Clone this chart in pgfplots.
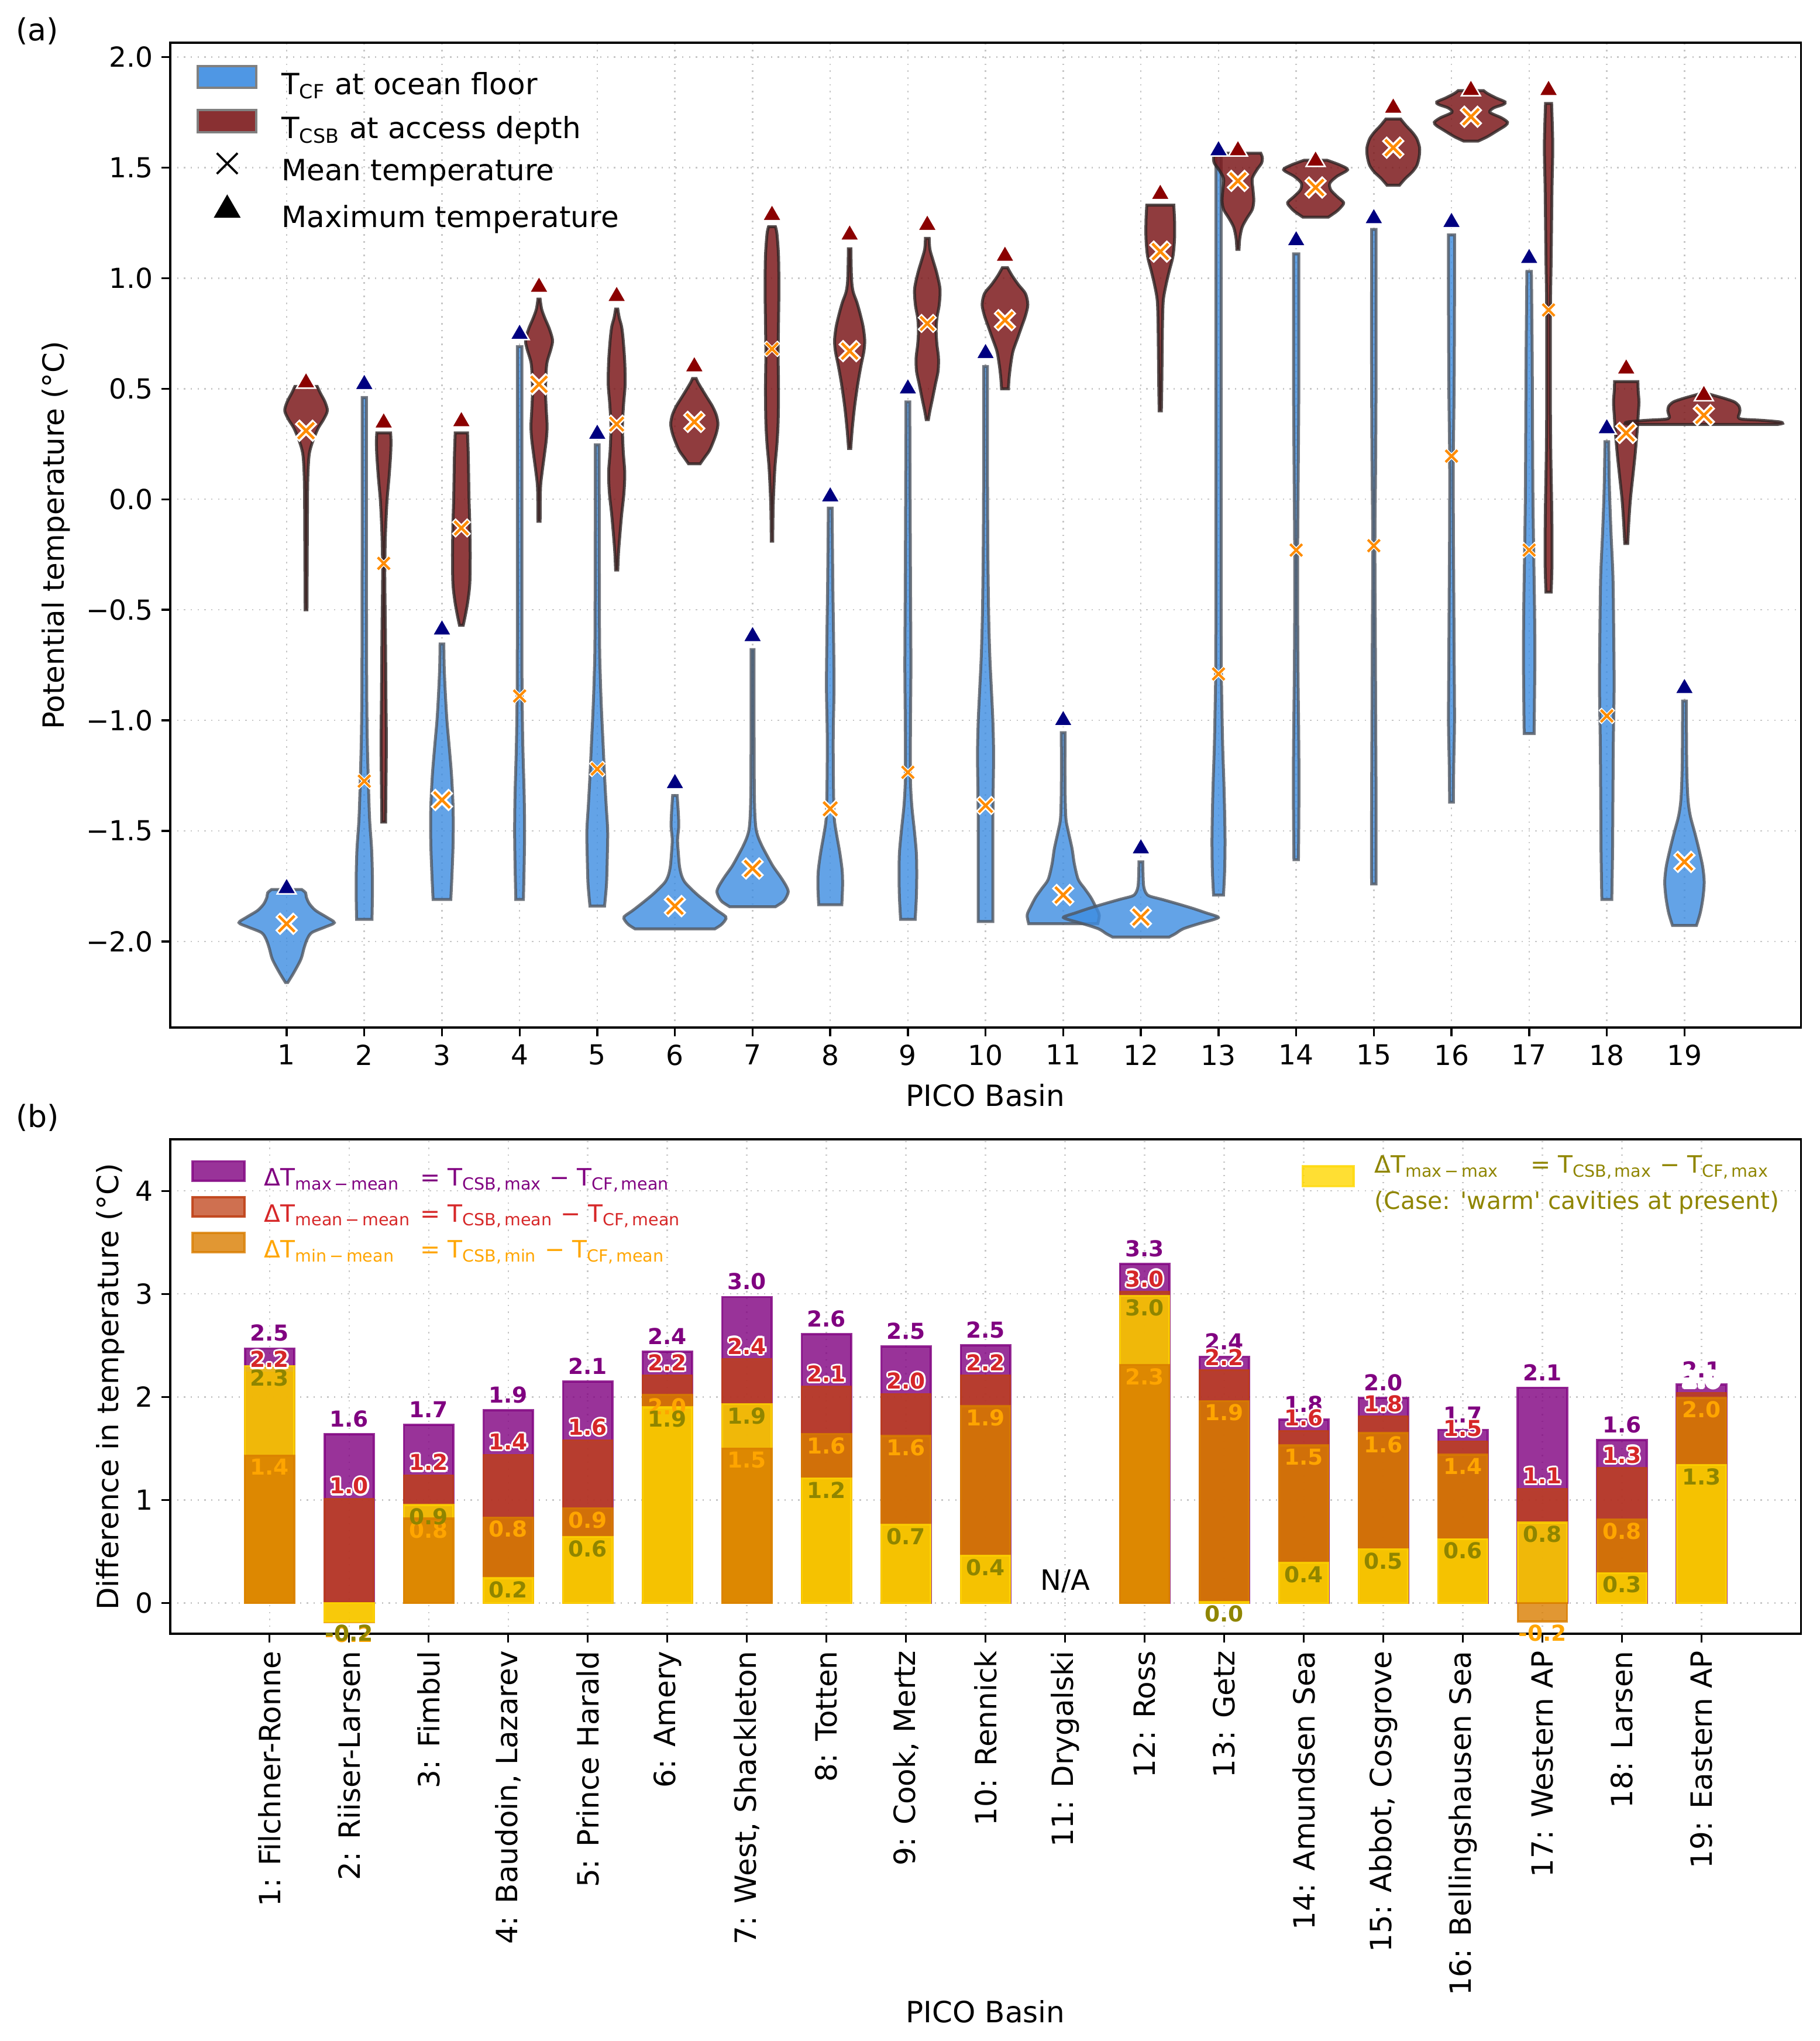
\documentclass[border=0pt]{standalone}
\usepackage{fontspec}
\setmainfont{DejaVu Sans}
\usepackage{pgfplots}
\usepackage{pgfplotstable}
\pgfplotsset{compat=1.18}
\usepgfplotslibrary{fillbetween}

\definecolor{vblue}{RGB}{60,140,225}
\definecolor{vbedge}{RGB}{80,86,96}
\definecolor{vred}{RGB}{124,26,28}
\definecolor{vredge}{RGB}{45,35,35}
\definecolor{navyc}{RGB}{0,0,128}
\definecolor{dredc}{RGB}{139,0,0}
\definecolor{mora}{RGB}{255,140,0}
\definecolor{cpur}{RGB}{128,0,128}
\definecolor{cred}{RGB}{191,64,21}
\definecolor{cora}{RGB}{217,125,0}
\definecolor{cgold}{RGB}{255,215,0}
\definecolor{tred}{RGB}{214,39,40}
\definecolor{tora}{RGB}{255,165,0}
\definecolor{tolive}{RGB}{143,133,0}

\newcommand{\fsz}[1]{\fontsize{#1}{1.2\dimexpr#1pt\relax}\selectfont}
\newcommand{\lblfont}{\fontsize{9}{10}\selectfont\bfseries}
\newcommand{\shd}[2]{\rlap{\kern#1\raise#2\copy0}}
\newcommand{\wout}[1]{{\setbox0=\hbox{\color{white}#1}%
  \shd{-.75pt}{0pt}\shd{.75pt}{0pt}\shd{0pt}{.75pt}\shd{0pt}{-.75pt}%
  \shd{-.53pt}{.53pt}\shd{.53pt}{.53pt}\shd{-.53pt}{-.53pt}\shd{.53pt}{-.53pt}%
  \textcolor{tred}{#1}}}
\newcommand{\dT}[1]{\makebox[64pt][l]{ΔT\textsubscript{#1}}}

\pgfplotsset{
  vb/.style={fill=vblue, fill opacity=0.8, draw=vbedge, draw opacity=0.8, line width=1.2pt},
  vr/.style={fill=vred, fill opacity=0.85, draw=vredge, draw opacity=0.8, line width=1.2pt},
  patchA/.style={legend image code/.code={\draw[##1] (0pt,-0.5pt) rectangle (24pt,8.5pt);}},
  patchB/.style={legend image code/.code={\draw[##1] (0pt,-0.4pt) rectangle (21.4pt,7.6pt);}},
  patchC/.style={legend image code/.code={\draw[##1] (0pt,-8pt) rectangle (21pt,0.3pt);}},
  markleg/.style={legend image code/.code={\draw[##1] plot coordinates {(12pt,4pt)};}},
  mybar/.style={ybar, bar width=0.62, bar shift=0pt, forget plot},
  common/.style={scale only axis, width=669pt,
    axis line style={line width=0.9pt}, tick style={black, line width=0.8pt},
    major tick length=3.5pt, tick align=outside, xtick pos=left, ytick pos=left,
    grid=major, major grid style={line width=0.6pt, black!22, dash pattern=on 0.6pt off 2.2pt},
    ticklabel style={font=\fsz{11.3}}},
}

\newcommand{\violin}[4]{%
  \addplot[draw=none, smooth, forget plot, name path=R#1] table[row sep=\\, x expr={#2+max(\thisrow{w}-0.006,0.008)}, y=y] {#4};
  \addplot[draw=none, smooth, forget plot, name path=L#1] table[row sep=\\, x expr={#2-max(\thisrow{w}-0.006,0.008)}, y=y] {#4};
  \addplot[#3, forget plot] fill between[of=R#1 and L#1, reverse=true];
}

\pgfplotstableread{
x  pm   pl  rm   rl  om    ol   yA    yB    yl
1  2.47 2.5 2.24 2.2 1.43  1.4  2.30  nan   2.3
2  1.64 1.6 1.01 1.0 -0.19 -0.2 nan   -0.18 -0.2
3  1.73 1.7 1.24 1.2 0.82  0.8  0.95  nan   0.9
4  1.87 1.9 1.44 1.4 0.83  0.8  nan   0.24  0.2
5  2.15 2.1 1.58 1.6 0.92  0.9  nan   0.64  0.6
6  2.44 2.4 2.21 2.2 2.02  2.0  nan   1.90  1.9
7  2.97 3.0 2.37 2.4 1.50  1.5  1.93  nan   1.9
8  2.61 2.6 2.10 2.1 1.64  1.6  nan   1.21  1.2
9  2.49 2.5 2.03 2.0 1.62  1.6  nan   0.76  0.7
10 2.50 2.5 2.21 2.2 1.91  1.9  nan   0.46  0.4
12 3.29 3.3 3.02 3.0 2.31  2.3  2.98  nan   3.0
13 2.39 2.4 2.26 2.2 1.96  1.9  nan   0.01  0.0
14 1.78 1.8 1.67 1.6 1.53  1.5  nan   0.39  0.4
15 1.99 2.0 1.81 1.8 1.65  1.6  nan   0.52  0.5
16 1.68 1.7 1.57 1.5 1.44  1.4  nan   0.62  0.6
17 2.09 2.1 1.11 1.1 -0.18 -0.2 0.78  nan   0.8
18 1.58 1.6 1.31 1.3 0.81  0.8  nan   0.29  0.3
19 2.12 2.1 2.04 2.0 1.99  2.0  nan   1.34  1.3
}\bars

\begin{document}
\begin{tikzpicture}
% ---------------- (a) violins ----------------
\begin{axis}[common, at={(69.8pt,-17.5pt)}, anchor=north west, height=404pt,
  xmin=-0.5, xmax=20.5, ymin=-2.39, ymax=2.065,
  xtick={1,...,19}, xticklabels={1,2,3,4,5,6,7,8,9,10,11,12,13,14,15,16,17,18,19},
  ytick={-2,-1.5,-1,-0.5,0,0.5,1,1.5,2},
  yticklabels={−2.0,−1.5,−1.0,−0.5,0.0,0.5,1.0,1.5,2.0},
  xlabel={PICO Basin}, ylabel={Potential temperature (°C)},
  every axis x label/.style={at={(axis description cs:0.5,0)}, yshift=-27.8pt, anchor=center, font=\fsz{12}},
  every axis y label/.style={at={(axis description cs:-0.070,0.5)}, rotate=90, anchor=center, font=\fsz{12}},
  legend style={at={(axis description cs:0.016,0.978)}, anchor=north west, draw=none, fill=none,
    font=\fsz{12}, row sep=3.6pt, inner sep=0pt,
    nodes={inner sep=0pt, text height=8.6pt, text depth=2.4pt},
    /tikz/every odd column/.append style={column sep=9.8pt}},
  legend cell align=left]
\addlegendimage{patchA, fill=vblue, fill opacity=0.9, draw=gray, line width=1pt}
\addlegendentry{T\textsubscript{CF} at ocean floor}
\addlegendimage{patchA, fill=vred, fill opacity=0.9, draw=gray, line width=1pt}
\addlegendentry{T\textsubscript{CSB} at access depth}
\addlegendimage{markleg, mark=x, mark size=6pt, black, line width=0.9pt}
\addlegendentry{Mean temperature}
\addlegendimage{markleg, mark=triangle*, mark size=6pt, black}
\addlegendentry{Maximum temperature}

% blue violins (T_CF at ocean floor)
\violin{1b}{1}{vb}{y w\\ -2.186 0.02\\ -2.14 0.10\\ -2.08 0.19\\ -2.03 0.23\\ -1.99 0.27\\ -1.96 0.33\\ -1.935 0.50\\ -1.915 0.62\\ -1.89 0.52\\ -1.86 0.38\\ -1.83 0.30\\ -1.80 0.26\\ -1.78 0.25\\ -1.765 0.20\\}
\violin{2b}{2}{vb}{y w\\ -1.90 0.105\\ -1.80 0.11\\ -1.70 0.11\\ -1.58 0.10\\ -1.45 0.075\\ -1.30 0.06\\ -1.10 0.045\\ -0.90 0.038\\ -0.60 0.035\\ 0.00 0.033\\ 0.46 0.033\\}
\violin{3b}{3}{vb}{y w\\ -1.81 0.12\\ -1.70 0.135\\ -1.55 0.15\\ -1.40 0.15\\ -1.25 0.13\\ -1.12 0.10\\ -1.00 0.07\\ -0.88 0.05\\ -0.76 0.035\\ -0.655 0.03\\}
\violin{4b}{4}{vb}{y w\\ -1.81 0.055\\ -1.65 0.065\\ -1.50 0.07\\ -1.34 0.065\\ -1.15 0.05\\ -1.00 0.042\\ -0.75 0.036\\ 0.00 0.035\\ 0.69 0.035\\}
\violin{5b}{5}{vb}{y w\\ -1.84 0.10\\ -1.74 0.125\\ -1.62 0.135\\ -1.50 0.14\\ -1.38 0.12\\ -1.25 0.10\\ -1.10 0.08\\ -0.95 0.06\\ -0.80 0.045\\ -0.60 0.035\\ 0.246 0.03\\}
\violin{6b}{6}{vb}{y w\\ -1.943 0.52\\ -1.925 0.60\\ -1.905 0.65\\ -1.888 0.66\\ -1.86 0.55\\ -1.83 0.44\\ -1.79 0.30\\ -1.757 0.20\\ -1.73 0.13\\ -1.70 0.09\\ -1.66 0.065\\ -1.60 0.05\\ -1.54 0.04\\ -1.48 0.055\\ -1.42 0.05\\ -1.34 0.035\\}
\violin{7b}{7}{vb}{y w\\ -1.843 0.30\\ -1.82 0.40\\ -1.80 0.44\\ -1.775 0.465\\ -1.75 0.44\\ -1.71 0.37\\ -1.66 0.27\\ -1.61 0.19\\ -1.57 0.13\\ -1.53 0.08\\ -1.49 0.05\\ -1.42 0.035\\ -1.30 0.028\\ -1.00 0.025\\ -0.68 0.025\\}
\violin{8b}{8}{vb}{y w\\ -1.834 0.155\\ -1.75 0.165\\ -1.68 0.16\\ -1.60 0.13\\ -1.52 0.09\\ -1.45 0.06\\ -1.35 0.05\\ -1.20 0.045\\ -1.05 0.045\\ -0.85 0.055\\ -0.65 0.05\\ -0.40 0.04\\ -0.04 0.03\\}
\violin{9b}{9}{vb}{y w\\ -1.90 0.10\\ -1.80 0.115\\ -1.70 0.12\\ -1.60 0.115\\ -1.50 0.09\\ -1.38 0.055\\ -1.25 0.038\\ -1.00 0.04\\ -0.75 0.045\\ -0.40 0.04\\ 0.00 0.035\\ 0.44 0.03\\}
\violin{10b}{10}{vb}{y w\\ -1.91 0.10\\ -1.75 0.10\\ -1.60 0.10\\ -1.45 0.10\\ -1.30 0.105\\ -1.15 0.11\\ -1.00 0.10\\ -0.85 0.08\\ -0.70 0.06\\ -0.50 0.045\\ -0.20 0.035\\ 0.20 0.03\\ 0.60 0.03\\}
\violin{11b}{11}{vb}{y w\\ -1.92 0.45\\ -1.88 0.47\\ -1.84 0.42\\ -1.80 0.36\\ -1.76 0.28\\ -1.72 0.20\\ -1.65 0.15\\ -1.58 0.12\\ -1.50 0.07\\ -1.44 0.04\\ -1.30 0.03\\ -1.056 0.03\\}
\violin{12b}{12}{vb}{y w\\ -1.98 0.37\\ -1.965 0.45\\ -1.943 0.55\\ -1.92 0.75\\ -1.90 0.95\\ -1.889 1.00\\ -1.87 0.84\\ -1.851 0.68\\ -1.83 0.48\\ -1.81 0.28\\ -1.795 0.12\\ -1.78 0.07\\ -1.743 0.04\\ -1.64 0.03\\}
\violin{13b}{13}{vb}{y w\\ -1.79 0.07\\ -1.68 0.085\\ -1.55 0.09\\ -1.42 0.085\\ -1.28 0.075\\ -1.12 0.06\\ -0.95 0.05\\ -0.75 0.042\\ -0.30 0.04\\ 0.50 0.04\\ 1.20 0.04\\ 1.56 0.04\\}
\violin{14b}{14}{vb}{y w\\ -1.63 0.035\\ -1.45 0.04\\ -1.25 0.042\\ -1.05 0.038\\ -0.80 0.03\\ -0.50 0.025\\ -0.23 0.025\\ 0.10 0.032\\ 0.50 0.04\\ 0.90 0.04\\ 1.11 0.04\\}
\violin{15b}{15}{vb}{y w\\ -1.74 0.035\\ -1.40 0.035\\ -1.00 0.03\\ -0.60 0.025\\ -0.20 0.02\\ 0.20 0.03\\ 0.60 0.035\\ 1.00 0.035\\ 1.22 0.035\\}
\violin{16b}{16}{vb}{y w\\ -1.37 0.03\\ -1.20 0.035\\ -1.00 0.045\\ -0.70 0.04\\ -0.40 0.035\\ -0.10 0.03\\ 0.20 0.03\\ 0.50 0.04\\ 0.90 0.045\\ 1.196 0.045\\}
\violin{17b}{17}{vb}{y w\\ -1.06 0.07\\ -0.90 0.075\\ -0.70 0.08\\ -0.48 0.075\\ -0.25 0.065\\ 0.00 0.055\\ 0.30 0.05\\ 0.66 0.045\\ 1.03 0.035\\}
\violin{18b}{18}{vb}{y w\\ -1.81 0.07\\ -1.60 0.08\\ -1.34 0.085\\ -1.10 0.09\\ -0.85 0.10\\ -0.60 0.095\\ -0.35 0.085\\ -0.15 0.06\\ 0.05 0.04\\ 0.26 0.03\\}
\violin{19b}{19}{vb}{y w\\ -1.928 0.16\\ -1.87 0.21\\ -1.80 0.245\\ -1.73 0.26\\ -1.66 0.24\\ -1.58 0.19\\ -1.51 0.14\\ -1.43 0.08\\ -1.35 0.05\\ -1.20 0.035\\ -0.913 0.03\\}

% red violins (T_CSB at access depth)
\violin{1r}{1.25}{vr}{y w\\ -0.50 0.018\\ -0.20 0.022\\ 0.05 0.026\\ 0.15 0.035\\ 0.21 0.05\\ 0.26 0.09\\ 0.32 0.16\\ 0.36 0.23\\ 0.40 0.28\\ 0.44 0.25\\ 0.48 0.19\\ 0.51 0.15\\}
\violin{2r}{2.25}{vr}{y w\\ -1.46 0.03\\ -1.30 0.035\\ -1.10 0.04\\ -0.90 0.035\\ -0.60 0.028\\ -0.35 0.02\\ -0.20 0.025\\ -0.10 0.035\\ 0.00 0.05\\ 0.10 0.075\\ 0.20 0.095\\ 0.26 0.10\\ 0.30 0.095\\}
\violin{3r}{3.25}{vr}{y w\\ -0.57 0.03\\ -0.52 0.06\\ -0.46 0.09\\ -0.38 0.115\\ -0.25 0.12\\ -0.12 0.115\\ 0.00 0.105\\ 0.10 0.10\\ 0.20 0.095\\ 0.30 0.085\\}
\violin{4r}{4.25}{vr}{y w\\ -0.10 0.02\\ 0.05 0.025\\ 0.12 0.045\\ 0.20 0.075\\ 0.27 0.10\\ 0.33 0.11\\ 0.40 0.10\\ 0.48 0.09\\ 0.56 0.095\\ 0.62 0.11\\ 0.68 0.16\\ 0.72 0.18\\ 0.77 0.14\\ 0.82 0.08\\ 0.86 0.04\\ 0.905 0.02\\}
\violin{5r}{5.25}{vr}{y w\\ -0.32 0.02\\ -0.24 0.03\\ -0.15 0.05\\ -0.07 0.07\\ 0.03 0.10\\ 0.12 0.11\\ 0.22 0.09\\ 0.33 0.08\\ 0.43 0.095\\ 0.52 0.115\\ 0.62 0.11\\ 0.72 0.09\\ 0.78 0.07\\ 0.82 0.04\\ 0.86 0.02\\}
\violin{6r}{6.25}{vr}{y w\\ 0.16 0.08\\ 0.19 0.14\\ 0.22 0.20\\ 0.26 0.25\\ 0.30 0.29\\ 0.34 0.31\\ 0.38 0.29\\ 0.42 0.24\\ 0.46 0.17\\ 0.50 0.10\\ 0.53 0.05\\ 0.546 0.03\\}
\violin{7r}{7.25}{vr}{y w\\ -0.19 0.015\\ -0.05 0.02\\ 0.05 0.03\\ 0.15 0.045\\ 0.25 0.07\\ 0.35 0.085\\ 0.50 0.09\\ 0.65 0.085\\ 0.80 0.09\\ 0.95 0.095\\ 1.10 0.09\\ 1.20 0.07\\ 1.233 0.05\\}
\violin{8r}{8.25}{vr}{y w\\ 0.23 0.02\\ 0.32 0.04\\ 0.42 0.07\\ 0.52 0.11\\ 0.60 0.15\\ 0.67 0.19\\ 0.72 0.20\\ 0.78 0.18\\ 0.84 0.14\\ 0.89 0.10\\ 0.94 0.05\\ 1.00 0.03\\ 1.133 0.022\\}
\violin{9r}{9.25}{vr}{y w\\ 0.36 0.02\\ 0.40 0.04\\ 0.45 0.07\\ 0.52 0.11\\ 0.58 0.145\\ 0.64 0.15\\ 0.70 0.13\\ 0.76 0.12\\ 0.82 0.13\\ 0.88 0.16\\ 0.95 0.17\\ 1.02 0.13\\ 1.08 0.08\\ 1.13 0.04\\ 1.18 0.03\\}
\violin{10r}{10.25}{vr}{y w\\ 0.50 0.05\\ 0.55 0.06\\ 0.61 0.08\\ 0.67 0.11\\ 0.73 0.17\\ 0.78 0.22\\ 0.83 0.27\\ 0.88 0.30\\ 0.93 0.27\\ 0.97 0.18\\ 1.01 0.10\\ 1.047 0.04\\}
\violin{12r}{12.25}{vr}{y w\\ 0.40 0.02\\ 0.50 0.025\\ 0.66 0.03\\ 0.80 0.035\\ 0.90 0.045\\ 0.97 0.08\\ 1.03 0.12\\ 1.10 0.17\\ 1.18 0.19\\ 1.26 0.19\\ 1.33 0.18\\}
\violin{13r}{13.25}{vr}{y w\\ 1.13 0.02\\ 1.18 0.03\\ 1.23 0.06\\ 1.27 0.12\\ 1.31 0.19\\ 1.35 0.21\\ 1.40 0.20\\ 1.45 0.19\\ 1.49 0.25\\ 1.52 0.31\\ 1.545 0.32\\ 1.565 0.30\\}
\violin{14r}{14.25}{vr}{y w\\ 1.276 0.17\\ 1.30 0.27\\ 1.32 0.33\\ 1.342 0.366\\ 1.37 0.28\\ 1.40 0.20\\ 1.43 0.19\\ 1.46 0.28\\ 1.49 0.418\\ 1.51 0.33\\ 1.525 0.22\\ 1.533 0.155\\}
\violin{15r}{15.25}{vr}{y w\\ 1.42 0.086\\ 1.45 0.16\\ 1.48 0.25\\ 1.51 0.31\\ 1.55 0.34\\ 1.59 0.345\\ 1.63 0.31\\ 1.66 0.25\\ 1.69 0.17\\ 1.72 0.10\\}
\violin{16r}{16.25}{vr}{y w\\ 1.62 0.10\\ 1.64 0.22\\ 1.67 0.36\\ 1.69 0.45\\ 1.705 0.477\\ 1.725 0.40\\ 1.75 0.25\\ 1.77 0.30\\ 1.785 0.42\\ 1.797 0.446\\ 1.815 0.33\\ 1.835 0.22\\ 1.848 0.17\\}
\violin{17r}{17.25}{vr}{y w\\ -0.42 0.04\\ -0.30 0.05\\ -0.15 0.05\\ 0.00 0.045\\ 0.20 0.035\\ 0.40 0.03\\ 0.60 0.03\\ 0.86 0.03\\ 1.10 0.04\\ 1.40 0.05\\ 1.60 0.06\\ 1.79 0.045\\}
\violin{18r}{18.25}{vr}{y w\\ -0.20 0.025\\ -0.10 0.04\\ 0.00 0.06\\ 0.10 0.09\\ 0.20 0.12\\ 0.30 0.145\\ 0.38 0.16\\ 0.44 0.17\\ 0.49 0.16\\ 0.532 0.156\\}
\violin{19r}{19.25}{vr}{y w\\ 0.338 0.95\\ 0.343 1.02\\ 0.350 0.98\\ 0.357 0.75\\ 0.362 0.50\\ 0.370 0.45\\ 0.385 0.46\\ 0.40 0.47\\ 0.42 0.46\\ 0.44 0.40\\ 0.455 0.28\\ 0.468 0.15\\ 0.475 0.08\\}

% maximum temperature markers
\addplot[only marks, forget plot, mark=triangle*, mark size=4.5pt, mark options={fill=navyc, draw=white, line width=0.6pt}]
  table[row sep=\\]{x y\\ 1 -1.76\\ 2 0.52\\ 3 -0.59\\ 4 0.747\\ 5 0.295\\ 6 -1.285\\ 7 -0.62\\ 8 0.012\\ 9 0.50\\ 10 0.66\\ 11 -1.0\\ 12 -1.58\\ 13 1.577\\ 14 1.17\\ 15 1.27\\ 16 1.253\\ 17 1.09\\ 18 0.32\\ 19 -0.855\\};
\addplot[only marks, forget plot, mark=triangle*, mark size=4.5pt, mark options={fill=dredc, draw=white, line width=0.6pt}]
  table[row sep=\\]{x y\\ 1.25 0.527\\ 2.25 0.346\\ 3.25 0.352\\ 4.25 0.96\\ 5.25 0.918\\ 6.25 0.60\\ 7.25 1.285\\ 8.25 1.196\\ 9.25 1.24\\ 10.25 1.10\\ 12.25 1.38\\ 13.25 1.577\\ 14.25 1.53\\ 15.25 1.77\\ 16.25 1.85\\ 17.25 1.85\\ 18.25 0.59\\ 19.25 0.47\\};

% mean temperature markers (three marker sizes)
\pgfplotstableread[row sep=\\]{x y\\ 1 -1.92\\ 1.25 0.31\\ 3 -1.36\\ 4.25 0.52\\ 6 -1.84\\ 6.25 0.35\\ 7 -1.67\\ 8.25 0.67\\ 10.25 0.81\\ 11 -1.79\\ 12 -1.89\\ 12.25 1.12\\ 13.25 1.44\\ 14.25 1.41\\ 15.25 1.59\\ 16.25 1.73\\ 18.25 0.30\\ 19 -1.64\\ 19.25 0.38\\}\meanbig
\pgfplotstableread[row sep=\\]{x y\\ 3.25 -0.13\\ 5.25 0.34\\ 9.25 0.795\\ 10 -1.385\\ 8 -1.40\\}\meanmid
\pgfplotstableread[row sep=\\]{x y\\ 2 -1.275\\ 2.25 -0.29\\ 4 -0.89\\ 5 -1.22\\ 7.25 0.68\\ 9 -1.235\\ 13 -0.79\\ 14 -0.23\\ 15 -0.21\\ 16 0.195\\ 17 -0.23\\ 17.25 0.856\\ 18 -0.98\\}\meansml
\addplot[only marks, forget plot, mark=x, mark size=5.2pt, mark options={draw=white, line width=2.8pt}] table {\meanbig};
\addplot[only marks, forget plot, mark=x, mark size=4.6pt, mark options={draw=mora, line width=1.1pt}] table {\meanbig};
\addplot[only marks, forget plot, mark=x, mark size=4.5pt, mark options={draw=white, line width=2.3pt}] table {\meanmid};
\addplot[only marks, forget plot, mark=x, mark size=3.95pt, mark options={draw=mora, line width=1.05pt}] table {\meanmid};
\addplot[only marks, forget plot, mark=x, mark size=4.0pt, mark options={draw=white, line width=1.7pt}] table {\meansml};
\addplot[only marks, forget plot, mark=x, mark size=3.45pt, mark options={draw=mora, line width=1pt}] table {\meansml};
\end{axis}

% ---------------- (b) bars ----------------
\begin{axis}[common, at={(69.8pt,-467.3pt)}, anchor=north west, height=202.8pt, clip=false,
  xmin=-0.25, xmax=20.25, ymin=-0.3, ymax=4.5,
  xtick={1,...,19},
  xticklabels={{1: Filchner-Ronne},{2: Riiser-Larsen},{3: Fimbul},{4: Baudoin, Lazarev},{5: Prince Harald},{6: Amery},{7: West, Shackleton},{8: Totten},{9: Cook, Mertz},{10: Rennick},{11: Drygalski},{12: Ross},{13: Getz},{14: Amundsen Sea},{15: Abbot, Cosgrove},{16: Bellingshausen Sea},{17: Western AP},{18: Larsen},{19: Eastern AP}},
  xticklabel style={rotate=90, anchor=east, font=\fsz{12}},
  ytick={0,1,2,3,4}, yticklabels={0,1,2,3,4},
  xlabel={PICO Basin}, ylabel={Difference in temperature (°C)},
  every axis x label/.style={at={(axis description cs:0.5,0)}, yshift=-155pt, anchor=center, font=\fsz{12}},
  every axis y label/.style={at={(axis description cs:-0.0366,0.5)}, rotate=90, anchor=center, font=\fsz{12}},
  legend style={at={(axis description cs:0.0126,0.959)}, anchor=north west, draw=none, fill=none,
    font=\fsz{9.8}, row sep=1.6pt, inner sep=0pt,
    nodes={inner sep=0pt, text height=7.6pt, text depth=2.5pt},
    /tikz/every odd column/.append style={column sep=7.7pt}},
  legend cell align=left]
\addlegendimage{patchB, fill=cpur, draw=cpur, opacity=0.8, line width=0.9pt}
\addlegendentry[text=cpur]{\textcolor{cpur}{\dT{max\,−\,mean}= T\textsubscript{CSB,\,max} − T\textsubscript{CF,\,mean}}}
\addlegendimage{patchB, fill=cred, draw=cred, fill opacity=0.75, draw opacity=0.9, line width=0.9pt}
\addlegendentry[text=tred]{\textcolor{tred}{\dT{mean\,−\,mean}= T\textsubscript{CSB,\,mean} − T\textsubscript{CF,\,mean}}}
\addlegendimage{patchB, fill=cora, draw=cora, opacity=0.8, line width=0.9pt}
\addlegendentry[text=tora]{\textcolor{tora}{\dT{min\,−\,mean}= T\textsubscript{CSB,\,min} − T\textsubscript{CF,\,mean}}}

\addplot[mybar, fill=cpur, draw=cpur, opacity=0.8, line width=0.9pt] table[x=x, y=pm] {\bars};
\addplot[mybar, fill=cred, draw=cred, opacity=0.8, line width=0.6pt] table[x=x, y=rm] {\bars};
\addplot[mybar, fill=cgold, draw=cgold, opacity=0.8, line width=0.8pt] table[x=x, y=yA] {\bars};
\addplot[mybar, fill=cora, draw=cora, opacity=0.8, line width=0.8pt] table[x=x, y=om] {\bars};
\addplot[mybar, fill=cgold, draw=cgold, opacity=0.8, line width=0.8pt] table[x=x, y=yB] {\bars};

% value labels
\addplot[mybar, draw=none, fill=none, point meta=explicit symbolic, nodes near coords={\textcolor{tora}{\pgfplotspointmeta}},
  every node near coord/.style={font=\lblfont, anchor=north, inner sep=0pt, yshift=-1.2pt}] table[x=x, y=om, meta=ol] {\bars};
\addplot[mybar, draw=none, fill=none, point meta=explicit symbolic, nodes near coords={\textcolor{tolive}{\pgfplotspointmeta}},
  every node near coord/.style={font=\lblfont, anchor=north, inner sep=0pt, yshift=-1.2pt}] table[x=x, y=yA, meta=yl] {\bars};
\addplot[mybar, draw=none, fill=none, point meta=explicit symbolic, nodes near coords={\textcolor{tolive}{\pgfplotspointmeta}},
  every node near coord/.style={font=\lblfont, anchor=north, inner sep=0pt, yshift=-1.2pt}] table[x=x, y=yB, meta=yl] {\bars};
\addplot[mybar, draw=none, fill=none, point meta=explicit symbolic, nodes near coords={\textcolor{cpur}{\pgfplotspointmeta}},
  every node near coord/.style={font=\lblfont, anchor=south, inner sep=0pt, yshift=2.7pt}] table[x=x, y=pm, meta=pl] {\bars};
\addplot[mybar, draw=none, fill=none, point meta=explicit symbolic, nodes near coords={\wout{\pgfplotspointmeta}},
  every node near coord/.style={font=\lblfont, anchor=south, inner sep=0pt, yshift=1pt}] table[x=x, y=rm, meta=rl] {\bars};
\node[font=\fsz{11.5}] at (axis cs:11,0.21) {N/A};
\end{axis}

% second legend of (b)
\begin{axis}[scale only axis, width=669pt, height=202.8pt, at={(69.8pt,-467.3pt)}, anchor=north west,
  hide axis, xmin=0, xmax=1, ymin=0, ymax=1,
  legend style={at={(axis description cs:0.6934,0.970)}, anchor=north west, draw=none, fill=none,
    font=\fsz{9.8}, row sep=1.2pt, inner sep=0pt,
    nodes={inner sep=0pt, text height=7.6pt, text depth=2.4pt},
    /tikz/every odd column/.append style={column sep=8.1pt}},
  legend cell align=left]
\addplot[draw=none, forget plot] coordinates {(0.5,0.5)};
\addlegendimage{patchC, fill=cgold, draw=cgold, opacity=0.8, line width=0.9pt}
\addlegendentry[text=tolive]{\dT{max\,−\,max}= T\textsubscript{CSB,\,max} − T\textsubscript{CF,\,max}}
\addlegendimage{empty legend}
\addlegendentry[text=tolive]{(Case: \textquotesingle warm\textquotesingle\ cavities at present)}
\end{axis}

\node[font=\fsz{12.5}, anchor=west, inner sep=0pt] at (6.4pt,-12.7pt) {(a)};
\node[font=\fsz{12.5}, anchor=west, inner sep=0pt] at (6.4pt,-458.5pt) {(b)};
\pgfresetboundingbox
\path[use as bounding box] (0pt,0pt) rectangle (746.4pt,-837.1pt);
\end{tikzpicture}
\end{document}
